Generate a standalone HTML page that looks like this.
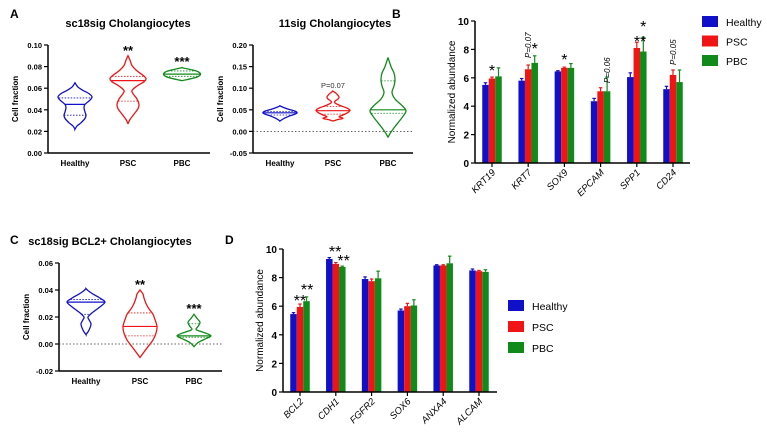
<!DOCTYPE html>
<html><head><meta charset="utf-8"><style>
body{margin:0;background:#fff;font-family:"Liberation Sans",Arial,sans-serif}
svg{display:block}
text{font-family:"Liberation Sans",Arial,sans-serif}
</style></head><body>
<svg id="fig" width="767" height="436" viewBox="0 0 767 436"></svg>
<script>
const NS='http://www.w3.org/2000/svg';
const svg=document.getElementById('fig');
const COL={Healthy:'#1010c8',PSC:'#f01414',PBC:'#108a18'};
const groups=['Healthy','PSC','PBC'];

// ---- violin data: [value, halfwidth px] profiles, plus quartiles/median ----
const a1Shapes=[
 [[0.022,0],[0.025,2],[0.028,6],[0.032,10],[0.035,11],[0.038,10],[0.042,9],[0.045,10],[0.049,15],[0.052,17],[0.055,14],[0.058,8],[0.061,3],[0.065,0]],
 [[0.027,0],[0.031,2],[0.036,6],[0.041,10],[0.045,11],[0.050,9],[0.055,5],[0.058,4],[0.062,9],[0.066,16],[0.069,18],[0.072,15],[0.076,9],[0.081,4],[0.086,2],[0.090,0]],
 [[0.067,0],[0.068,5],[0.070,14],[0.072,18],[0.074,18],[0.076,14],[0.078,5],[0.079,0]]];
const a1Stats=[[0.035,0.045,0.051],[0.048,0.067,0.071],[0.071,0.073,0.076]];
const a2Shapes=[
 [[0.024,0],[0.030,4],[0.036,10],[0.041,16],[0.044,17],[0.047,15],[0.051,9],[0.055,4],[0.059,0]],
 [[0.024,0],[0.027,4],[0.030,10],[0.034,6],[0.038,10],[0.044,15],[0.049,17],[0.054,14],[0.060,7],[0.066,2],[0.070,2],[0.075,5],[0.080,6],[0.086,4],[0.090,2],[0.093,0]],
 [[-0.014,0],[-0.005,2],[0.005,5],[0.020,10],[0.035,15],[0.048,18],[0.060,14],[0.075,7],[0.090,4],[0.105,6],[0.120,7],[0.135,6],[0.150,3],[0.171,0]]];
const a2Stats=[[0.038,0.043,0.046],[0.040,0.048,0.058],[0.042,0.050,0.117]];
const cShapes=[
 [[0.007,0],[0.009,2],[0.012,4],[0.015,5],[0.018,3],[0.020,2],[0.023,6],[0.027,13],[0.031,19],[0.034,14],[0.037,7],[0.039,3],[0.041,0]],
 [[-0.010,0],[-0.007,3],[-0.002,8],[0.003,13],[0.008,16],[0.013,17],[0.018,15],[0.022,13],[0.026,9],[0.030,6],[0.034,4],[0.037,3],[0.040,0]],
 [[-0.002,0],[0.001,4],[0.004,12],[0.006,17],[0.008,12],[0.010,4],[0.011,2],[0.013,4],[0.016,6],[0.019,3],[0.022,0]]];
const cStats=[[0.022,0.031,0.033],[0.006,0.013,0.023],[0.005,0.006,0.015]];

// ---- bar data ----
const bGenes=['KRT19','KRT7','SOX9','EPCAM','SPP1','CD24'];
const bHealthy=[5.5,5.8,6.45,4.35,6.05,5.2];
const bPSC=[5.95,6.6,6.7,5.05,8.1,6.2];
const bPBC=[6.1,7.05,6.7,5.05,7.85,5.7];
const bErrH=[0.15,0.15,0.05,0.2,0.3,0.2];
const bErrP=[0.1,0.3,0.05,0.25,0.4,0.35];
const bErrB=[0.6,0.5,0.3,1.0,1.0,0.85];
const dGenes=['BCL2','CDH1','FGFR2','SOX6','ANXA4','ALCAM'];
const dHealthy=[5.45,9.3,7.9,5.7,8.85,8.5];
const dPSC=[5.95,8.95,7.75,6.0,8.85,8.45];
const dPBC=[6.35,8.75,7.95,6.05,9.0,8.4];
const dErrH=[0.1,0.1,0.15,0.1,0.05,0.1];
const dErrP=[0.2,0.1,0.15,0.2,0.05,0.05];
const dErrB=[0.3,0.05,0.5,0.4,0.5,0.15];
const barTicks=[0,2,4,6,8,10];

function el(tag,attrs,parent){const e=document.createElementNS(NS,tag);for(const k in attrs)e.setAttribute(k,attrs[k]);(parent||svg).appendChild(e);return e;}
function txt(s,attrs,parent){const t=el('text',attrs,parent);t.textContent=s;return t;}

function smoothPath(pts){
 let d='M'+pts[0][0]+','+pts[0][1];
 for(let i=0;i<pts.length-1;i++){
  const p0=pts[Math.max(0,i-1)],p1=pts[i],p2=pts[i+1],p3=pts[Math.min(pts.length-1,i+2)];
  const c1=[p1[0]+(p2[0]-p0[0])/6,p1[1]+(p2[1]-p0[1])/6],c2=[p2[0]-(p3[0]-p1[0])/6,p2[1]-(p3[1]-p1[1])/6];
  d+=' C'+c1[0].toFixed(1)+','+c1[1].toFixed(1)+' '+c2[0].toFixed(1)+','+c2[1].toFixed(1)+' '+p2[0].toFixed(1)+','+p2[1].toFixed(1);
 }return d;}
function widthAt(shape,v){for(let i=0;i<shape.length-1;i++){if(v>=shape[i][0]&&v<=shape[i+1][0]){const t=(v-shape[i][0])/(shape[i+1][0]-shape[i][0]);return shape[i][1]+t*(shape[i+1][1]-shape[i][1]);}}return 0;}

function violinPanel(o){
 const g=el('g',{});
 const y=v=>o.y0-(v-o.min)/(o.max-o.min)*(o.y0-o.y1);
 txt(o.title,{x:o.tx,y:o.ty,'font-size':11,'font-weight':'bold','text-anchor':'middle',},g);
 el('line',{x1:o.ax,y1:o.y1,x2:o.ax,y2:o.y0,stroke:'#000','stroke-width':1.5,},g);
 el('line',{x1:o.ax,y1:o.y0,x2:o.axEnd,y2:o.y0,stroke:'#000','stroke-width':1.5,},g);
 o.ticks.forEach((t,i)=>{const yy=y(t);el('line',{x1:o.ax-4,y1:yy,x2:o.ax,y2:yy,stroke:'#000','stroke-width':1.2},g);
  txt(o.tickLabels[i],{x:o.ax-6,y:yy+3,'font-size':7.5,'font-weight':'bold','text-anchor':'end',},g);});
 if(o.zero){el('line',{x1:o.ax,y1:y(0),x2:o.axEnd,y2:y(0),stroke:'#333','stroke-width':0.8,'stroke-dasharray':'1.5,2',},g);}
 txt('Cell fraction',{x:0,y:0,'font-size':8,'font-weight':'bold','text-anchor':'middle',transform:`translate(${o.ax-30},${(o.y0+o.y1)/2}) rotate(-90)`,},g);
 groups.forEach((gn,i)=>{
  const cx=o.cx[i],c=COL[gn],sh=o.shapes[i];
  const right=sh.map(p=>[cx+p[1],y(p[0])]);const left=sh.slice().reverse().map(p=>[cx-p[1],y(p[0])]);
  const d=smoothPath(right)+' '+smoothPath(left).replace('M','L')+' Z';
  el('path',{d:d,fill:'none',stroke:c,'stroke-width':1.3,},g);
  const st=o.stats[i];
  [[st[0],true],[st[1],false],[st[2],true]].forEach(([v,dash])=>{const w=widthAt(sh,v);
   el('line',{x1:cx-w,y1:y(v),x2:cx+w,y2:y(v),stroke:c,'stroke-width':dash?0.8:1.2,'stroke-dasharray':dash?'1.5,1.5':'none',},g);});
  txt(gn,{x:cx,y:o.y0+13,'font-size':8,'font-weight':'bold','text-anchor':'middle',},g);
 });
 (o.annots||[]).forEach(a=>txt(a[0],{x:o.cx[a[1]],y:a[2],'font-size':a[3],'font-weight':a[4]||'bold','font-style':a[5]||'normal','text-anchor':'middle',fill:a[6]||'#000',},g));
}

function barPanel(o){
 const g=el('g',{});
 const y=v=>o.y0-v/10*(o.y0-o.y1);
 const bw=o.bw;
 const series=[[o.h,o.eh,'Healthy'],[o.p,o.ep,'PSC'],[o.b,o.eb,'PBC']];
 o.genes.forEach((gname,i)=>{
  const cx=o.x0+i*o.step;
  series.forEach((s,k)=>{const x=cx+(k-1.5)*bw;const c=COL[s[2]];
   const v=s[0][i],e=s[1][i];
   el('line',{x1:x+bw/2,y1:y(v),x2:x+bw/2,y2:y(v+e),stroke:c,'stroke-width':1.2,},g);
   el('line',{x1:x+1.5,y1:y(v+e),x2:x+bw-1.5,y2:y(v+e),stroke:c,'stroke-width':1.2,},g);
   el('rect',{x:x,y:y(v),width:bw,height:o.y0-y(v),fill:c,},g);});
  el('line',{x1:cx,y1:o.y0,x2:cx,y2:o.y0+4,stroke:'#000','stroke-width':1.2},g);
  txt(gname,{x:0,y:0,'font-size':9.5,'font-style':'italic','text-anchor':'end',transform:`translate(${cx+4},${o.y0+10}) rotate(-45)`,},g);
 });
 el('line',{x1:o.ax,y1:o.y1,x2:o.ax,y2:o.y0,stroke:'#000','stroke-width':1.5,},g);
 el('line',{x1:o.ax,y1:o.y0,x2:o.axEnd,y2:o.y0,stroke:'#000','stroke-width':1.5,},g);
 barTicks.forEach(t=>{const yy=y(t);el('line',{x1:o.ax-4,y1:yy,x2:o.ax,y2:yy,stroke:'#000','stroke-width':1.2},g);
  txt(String(t),{x:o.ax-6,y:yy+4,'font-size':10,'font-weight':'bold','text-anchor':'end',},g);});
 txt('Normalized abundance',{x:0,y:0,'font-size':10,'text-anchor':'middle',transform:`translate(${o.ax-20},${(o.y0+o.y1)/2}) rotate(-90)`,},g);
 (o.annots||[]).forEach(a=>{const cx=o.x0+a[1]*o.step+(a[2]-1)*bw;
  if(a[4]) txt(a[0],{x:0,y:0,'font-size':8,'font-style':'italic','text-anchor':'start',transform:`translate(${cx+3},${a[3]}) rotate(-90)`,},g);
  else txt(a[0],{x:cx,y:a[3]+9,'font-size':16,'text-anchor':'middle',},g);});
 groups.forEach((gn,k)=>{const ly=o.legY+k*o.legStep;
  el('rect',{x:o.legX,y:ly-6,width:16,height:11,fill:COL[gn],},g);
  txt(gn,{x:o.legX+24,y:ly+4,'font-size':o.legFont,},g);});
}

[['A',10,18],['B',392,18],['C',10,244],['D',225,244]].forEach(l=>txt(l[0],{x:l[1],y:l[2],'font-size':12,'font-weight':'bold',}));

violinPanel({name:'panel-a-sc18sig',title:'sc18sig Cholangiocytes',tx:128,ty:27,ax:48,axEnd:210,y0:153,y1:45,min:0,max:0.10,
 ticks:[0,0.02,0.04,0.06,0.08,0.10],tickLabels:['0.00','0.02','0.04','0.06','0.08','0.10'],cx:[75,128,182],shapes:a1Shapes,stats:a1Stats,
 annots:[['**',1,55,13],['***',2,66,13]]});
violinPanel({name:'panel-a-11sig',title:'11sig Cholangiocytes',tx:335,ty:27,ax:253,axEnd:413,y0:153,y1:45,min:-0.05,max:0.20,zero:true,
 ticks:[-0.05,0,0.05,0.10,0.15,0.20],tickLabels:['-0.05','0.00','0.05','0.10','0.15','0.20'],cx:[280,333,388],shapes:a2Shapes,stats:a2Stats,
 annots:[['P=0.07',1,88,7.5,'normal','normal','#333']]});
violinPanel({name:'panel-c-bcl2',title:'sc18sig BCL2+ Cholangiocytes',tx:110,ty:245,ax:59,axEnd:222,y0:371,y1:263,min:-0.02,max:0.06,zero:true,
 ticks:[-0.02,0,0.02,0.04,0.06],tickLabels:['-0.02','0.00','0.02','0.04','0.06'],cx:[86,140,194],shapes:cShapes,stats:cStats,
 annots:[['**',1,289,13],['***',2,313,13]]});

barPanel({name:'panel-b-markers',genes:bGenes,h:bHealthy,p:bPSC,b:bPBC,eh:bErrH,ep:bErrP,eb:bErrB,ax:475,axEnd:690,y0:163,y1:21,x0:492,step:36.2,bw:6.5,
 legX:702,legY:22,legStep:19.5,legFont:10.5,
 annots:[['*',0,1,67],['P=0.07',1,1,58,true],['*',1,2,45],['*',2,1,56],['P=0.06',3,2,83,true],['**',4,1.5,38],['*',4,2,23],['P=0.05',5,1,65,true]]});
barPanel({name:'panel-d-markers',genes:dGenes,h:dHealthy,p:dPSC,b:dPBC,eh:dErrH,ep:dErrP,eb:dErrB,ax:283,axEnd:497,y0:392,y1:249,x0:300,step:35.8,bw:6.5,
 legX:508,legY:306,legStep:21,legFont:10.5,
 annots:[['**',0,1,297],['**',0,2.1,286],['**',1,0.9,248],['**',1,2.2,257]]});
</script>
</body></html>
